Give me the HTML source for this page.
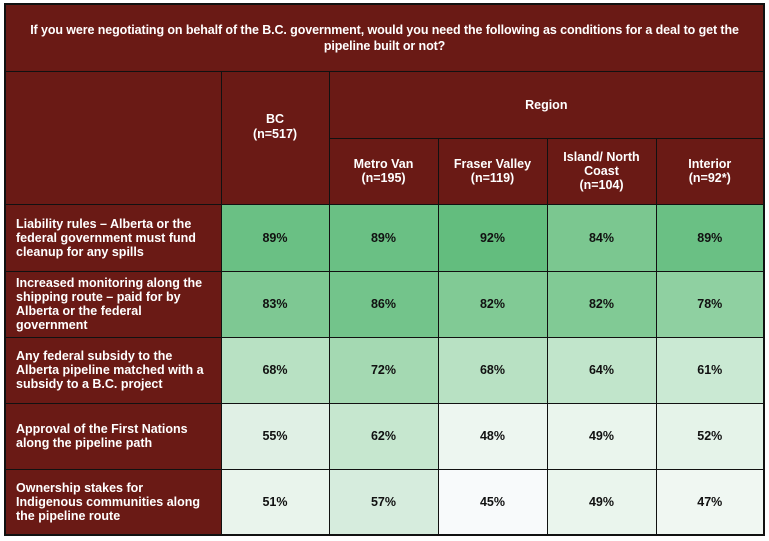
<!DOCTYPE html>
<html><head><meta charset="utf-8"><style>
body{margin:0;background:#fff;width:769px;height:541px;overflow:hidden;font-family:"Liberation Sans",Arial,sans-serif;}
table{position:absolute;left:4px;top:3px;width:761px;border-collapse:collapse;table-layout:fixed;border:2px solid #111;}
td{border:1.5px solid #111;padding:0;font-weight:bold;font-size:12.5px;text-align:center;vertical-align:middle;overflow:hidden;}
.h{background:#6a1a15;color:#fff;}
.l{background:#6a1a15;color:#fff;text-align:left;padding-left:10px;line-height:14px;white-space:nowrap;}
.d{color:#111;}
</style></head><body>
<table>
<colgroup><col style="width:216px"><col style="width:108px"><col style="width:109px"><col style="width:109px"><col style="width:109px"><col style="width:108px"></colgroup>
<tr style="height:67px"><td class="h" colspan="6" style="line-height:16px;padding:0;font-size:12.5px;letter-spacing:-0.1px;white-space:nowrap">If you were negotiating on behalf of the B.C. government, would you need the following as conditions for a deal to get the<br>pipeline built or not?</td></tr>
<tr style="height:67px"><td class="h" rowspan="2"></td><td class="h" rowspan="2" style="font-weight:normal;line-height:15px"><span style="font-weight:bold">BC<br>(n=517)</span><div style="height:22px"></div></td><td class="h" colspan="4">Region</td></tr>
<tr style="height:66px"><td class="h" style="line-height:14px">Metro Van<br>(n=195)</td><td class="h" style="line-height:14px">Fraser Valley<br>(n=119)</td><td class="h" style="line-height:14px">Island/ North<br>Coast<br>(n=104)</td><td class="h" style="line-height:14px">Interior<br>(n=92*)</td></tr>
<tr style="height:67px"><td class="l">Liability rules – Alberta or the<br>federal government must fund<br>cleanup for any spills</td><td class="d" style="background:#6ac084">89%</td><td class="d" style="background:#6ac084">89%</td><td class="d" style="background:#63bd7e">92%</td><td class="d" style="background:#7bc790">84%</td><td class="d" style="background:#6ac084">89%</td></tr>
<tr style="height:66px"><td class="l">Increased monitoring along the<br>shipping route – paid for by<br>Alberta or the federal<br>government</td><td class="d" style="background:#7ec893">83%</td><td class="d" style="background:#73c48b">86%</td><td class="d" style="background:#81ca95">82%</td><td class="d" style="background:#81ca95">82%</td><td class="d" style="background:#8fd0a1">78%</td></tr>
<tr style="height:66px"><td class="l">Any federal subsidy to the<br>Alberta pipeline matched with a<br>subsidy to a B.C. project</td><td class="d" style="background:#b8e1c3">68%</td><td class="d" style="background:#a4d9b2">72%</td><td class="d" style="background:#b8e1c3">68%</td><td class="d" style="background:#c1e5cb">64%</td><td class="d" style="background:#cae9d3">61%</td></tr>
<tr style="height:66px"><td class="l">Approval of the First Nations<br>along the pipeline path</td><td class="d" style="background:#e0f0e5">55%</td><td class="d" style="background:#c6e7cf">62%</td><td class="d" style="background:#edf6f0">48%</td><td class="d" style="background:#eaf5ed">49%</td><td class="d" style="background:#e5f3e9">52%</td></tr>
<tr style="height:66px"><td class="l">Ownership stakes for<br>Indigenous communities along<br>the pipeline route</td><td class="d" style="background:#e9f4ec">51%</td><td class="d" style="background:#d6ecdd">57%</td><td class="d" style="background:#f8fafb">45%</td><td class="d" style="background:#eaf5ed">49%</td><td class="d" style="background:#f0f7f2">47%</td></tr>
</table>
</body></html>
